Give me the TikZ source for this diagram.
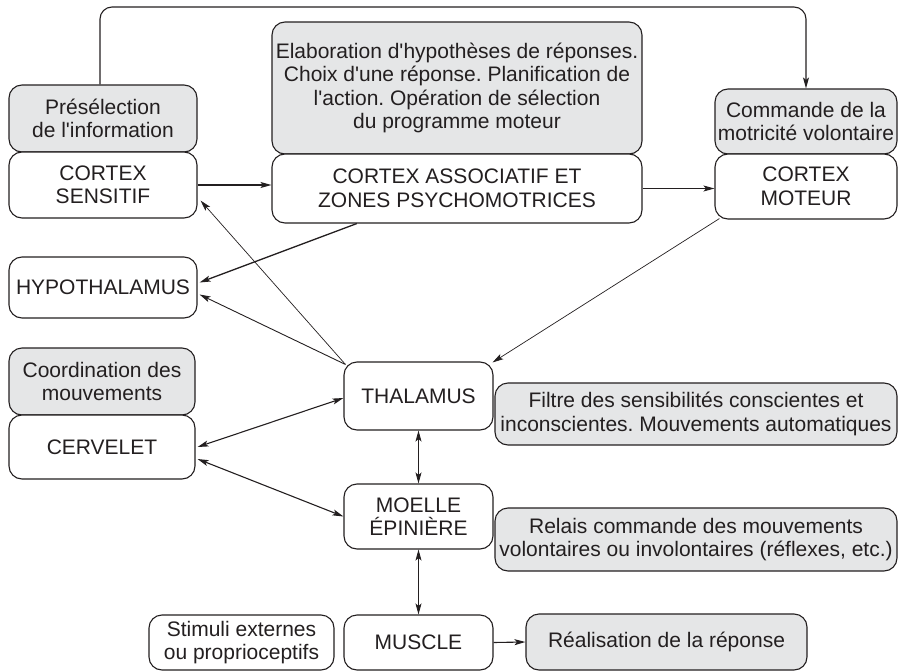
\documentclass[tikz,border=0pt]{standalone}
\usepackage{fontspec}
\setmainfont{Liberation Sans}
\usetikzlibrary{arrows.meta,calc}
\definecolor{boxgray}{RGB}{229,230,231}
\definecolor{ink}{RGB}{35,31,32}
\newcommand{\apos}{\textquotesingle}
\frenchspacing
\begin{document}
\begin{tikzpicture}[x=1pt,y=1pt,
  every node/.style={font=\fontsize{21}{23.5}\selectfont, text=ink},
  box/.style={draw=ink, line width=1.1pt, rounded corners=13pt, align=center, inner sep=0pt, fill=white},
  graybox/.style={box, fill=boxgray},
  arr/.style={draw=ink, line width=1.1pt, -{Stealth[length=11pt,width=6pt,inset=2.5pt]}},
  thinarr/.style={arr, line width=0.7pt},
  dbl/.style={arr, {Stealth[length=11pt,width=6pt,inset=2.5pt]}-{Stealth[length=11pt,width=6pt,inset=2.5pt]}}
]
\useasboundingbox (0,0) rectangle (898,-672);
% helper: box from x1,x2,y1,y2 (pixels, y down)
\newcommand{\mybox}[7]{%
  \node[#1, minimum width=#4-#3, minimum height=#6-#5] (#2) at ({(#3+#4)/2},{-(#5+#6)/2}) {#7};}
\mybox{graybox}{pre}{9}{197}{85}{152}{Présélection\\de l\apos{}information}
\mybox{box}{cs}{9}{197}{152}{218}{CORTEX\\SENSITIF}
\mybox{graybox}{ela}{272}{642}{22}{154}{Elaboration d\apos{}hypothèses de réponses.\\Choix d\apos{}une réponse. Planification de\\l\apos{}action. Opération de sélection\\du programme moteur}
\mybox{box}{ca}{272}{642}{154}{223}{CORTEX ASSOCIATIF ET\\ZONES PSYCHOMOTRICES}
\mybox{graybox}{com}{715}{897}{89}{154}{Commande de la\\motricité volontaire}
\mybox{box}{cm}{715}{897}{154}{219}{CORTEX\\MOTEUR}
\mybox{box}{hyp}{9}{197}{257}{318}{HYPOTHALAMUS}
\mybox{graybox}{coord}{9}{195}{348}{415}{Coordination des\\mouvements}
\mybox{box}{cer}{9}{195}{415}{479}{CERVELET}
\mybox{box}{thal}{344}{493}{362}{430}{THALAMUS}
\mybox{graybox}{filt}{495}{897}{383}{445}{Filtre des sensibilités conscientes et\\inconscientes. Mouvements automatiques}
\mybox{box}{moe}{344}{493}{484}{549}{MOELLE\\ÉPINIÈRE}
\mybox{graybox}{rel}{495}{897}{508}{571}{Relais commande des mouvements\\volontaires ou involontaires (réflexes, etc.)}
\mybox{box}{stim}{149}{334}{615}{670}{Stimuli externes\\ou proprioceptifs}
\mybox{box}{mus}{344}{493}{615}{670}{MUSCLE}
\mybox{graybox}{rea}{526}{807}{614}{670}{Réalisation de la réponse}

\coordinate (top) at (0,-7);
\draw[arr, rounded corners=12pt] ([xshift=-3pt]pre.north) |- (top -| com.north) -- (com.north);
\draw[arr] (cs.east) -- (cs.east -| ca.west);
\draw[arr] (ca.east) -- (ca.east -| cm.west);
\draw[arr, line width=1.3pt] ($(ca.south west)!0.23!(ca.south east)$) -- ([shift={(2pt,5pt)}]hyp.east);
\draw[thinarr, line width=0.9pt] ([shift={(2pt,-3pt)}]thal.north west) -- ([shift={(2pt,-7pt)}]hyp.east);
\draw[thinarr] ([shift={(2pt,-3pt)}]thal.north west) -- ([shift={(3pt,18pt)}]cs.south east);
\draw[thinarr] ([shift={(5pt,1pt)}]cm.south west) -- ([shift={(-1pt,-1pt)}]thal.north east);
\draw[dbl] ([xshift=2pt]cer.east) -- ([yshift=-2pt]thal.west);
\draw[dbl] ([shift={(2pt,-12pt)}]cer.east) -- (moe.west);
\draw[dbl, line width=0.9pt] (thal.south) -- (moe.north);
\draw[dbl, line width=0.9pt] (moe.south) -- (mus.north);
\draw[arr] (mus.east) -- (rea.west);
\end{tikzpicture}
\end{document}
